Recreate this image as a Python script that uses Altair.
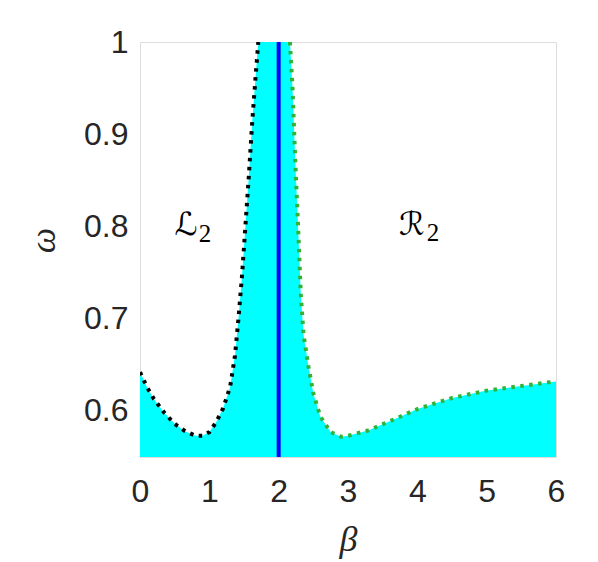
import altair as alt
import pandas as pd

# Left boundary (black dotted) of the L2 region
black_beta = [0.0, 0.1, 0.2, 0.35, 0.5, 0.65, 0.8, 0.9, 1.0, 1.1, 1.2, 1.3, 1.37, 1.42, 1.47, 1.52, 1.57, 1.62, 1.67, 1.706]
black_omega = [0.642, 0.626, 0.613, 0.598, 0.586, 0.578, 0.573, 0.573, 0.577, 0.588, 0.603, 0.626, 0.66, 0.70, 0.745, 0.80, 0.855, 0.915, 0.965, 1.0]

# Right boundary (green dotted) of the R2 region
green_beta = [2.163, 2.2, 2.24, 2.28, 2.32, 2.36, 2.43, 2.5, 2.6, 2.75, 2.9, 3.0, 3.3, 3.7, 4.0, 4.5, 5.0, 5.5, 6.0]
green_omega = [1.0, 0.95, 0.87, 0.80, 0.725, 0.682, 0.648, 0.619, 0.594, 0.577, 0.572, 0.573, 0.579, 0.592, 0.602, 0.614, 0.622, 0.627, 0.632]

# Vertical blue line
blue_beta = [2.0]

# Region labels (script letter + subscript)
label_text = ["ℒ", "ℛ"]
label_beta = [0.663, 3.92]
label_omega = [0.8015, 0.8015]
sub_text = ["2", "2"]
sub_beta = [0.9375, 4.226]
sub_omega = [0.792, 0.793]

x_ticks = [0, 1, 2, 3, 4, 5, 6]
y_ticks = [0.6, 0.7, 0.8, 0.9, 1.0]

YMIN, YMAX = 0.55, 1.0

fill_df = pd.DataFrame({"beta": black_beta + green_beta, "omega": black_omega + green_omega})
black_df = pd.DataFrame({"beta": black_beta, "omega": black_omega})
green_df = pd.DataFrame({"beta": green_beta, "omega": green_omega})
blue_df = pd.DataFrame({"beta": blue_beta, "lo": [YMIN], "hi": [YMAX]})
label_df = pd.DataFrame({"t": label_text, "beta": label_beta, "omega": label_omega})
sub_df = pd.DataFrame({"t": sub_text, "beta": sub_beta, "omega": sub_omega})

xs = alt.Scale(domain=[0, 6], nice=False, zero=False)
ys = alt.Scale(domain=[YMIN, YMAX], nice=False, zero=False)

x_axis = alt.Axis(values=x_ticks, title="β", grid=False, ticks=False, domain=False,
                  format="d",
                  labelFontSize=32, labelFont="Liberation Sans", labelColor="#262626",
                  labelPadding=19, labelFlush=False,
                  titleFont="Liberation Serif", titleFontStyle="italic", titleFontWeight="normal",
                  titleFontSize=36, titleColor="#262626", titleX=208, titleY=82,
                  titleBaseline="middle", titleAlign="center")
y_axis = alt.Axis(values=y_ticks, title="ω", grid=False, ticks=False, domain=False,
                  format=".1~f",
                  labelFontSize=32, labelFont="Liberation Sans", labelColor="#262626",
                  labelPadding=12, labelFlush=False, labelBaseline="middle",
                  titleFont="Liberation Serif", titleFontStyle="italic", titleFontWeight="normal",
                  titleFontSize=36, titleColor="#262626", titleX=-97, titleY=198,
                  titleBaseline="middle", titleAlign="center", titleAngle=-90)

fill = alt.Chart(fill_df).mark_area(color="#00ffff", opacity=1, clip=True).encode(
    x=alt.X("beta:Q", scale=xs, axis=x_axis),
    y=alt.Y("omega:Q", scale=ys, axis=y_axis),
    y2=alt.datum(YMIN),
)

blue = alt.Chart(blue_df).mark_rule(color="#0000ff", strokeWidth=4, clip=True).encode(
    x=alt.X("beta:Q", scale=xs), y=alt.Y("lo:Q", scale=ys), y2="hi:Q"
)

black = alt.Chart(black_df).mark_line(color="#000000", strokeWidth=4, strokeDash=[3.5, 5.5],
                                      strokeCap="butt", clip=True).encode(
    x=alt.X("beta:Q", scale=xs), y=alt.Y("omega:Q", scale=ys)
)
green = alt.Chart(green_df).mark_line(color="#33b233", strokeWidth=4, strokeDash=[3.5, 5.5],
                                      strokeCap="butt", clip=True).encode(
    x=alt.X("beta:Q", scale=xs), y=alt.Y("omega:Q", scale=ys)
)

labels = alt.Chart(label_df).mark_text(font="DejaVu Sans", fontSize=32, fontStyle="italic",
                                       color="#000000", baseline="middle", align="center").encode(
    x=alt.X("beta:Q", scale=xs), y=alt.Y("omega:Q", scale=ys), text="t:N"
)
subs = alt.Chart(sub_df).mark_text(font="Liberation Serif", fontSize=25, color="#000000",
                                   baseline="middle", align="center").encode(
    x=alt.X("beta:Q", scale=xs), y=alt.Y("omega:Q", scale=ys), text="t:N"
)

chart = alt.layer(fill, blue, black, green, labels, subs).properties(
    width=416, height=415,
    autosize=alt.AutoSizeParams(type="none"),
    padding={"left": 132, "top": 34, "right": 34, "bottom": 104},
).configure_view(stroke="#c8c8c8", strokeWidth=1).configure(background="white")

chart.save("out.html", embed_options={"renderer": "svg", "actions": False})
